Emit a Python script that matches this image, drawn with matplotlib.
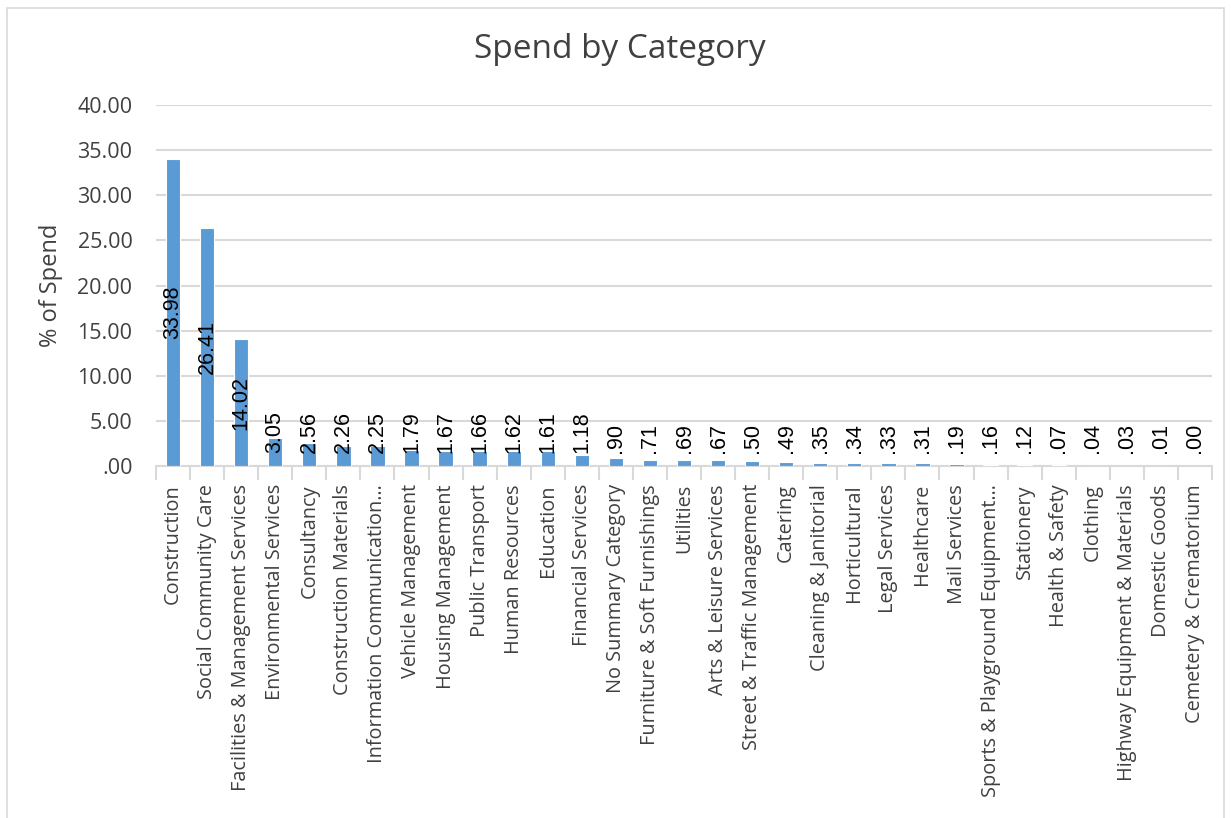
import matplotlib
matplotlib.use("Agg")
import matplotlib.pyplot as plt
from matplotlib.patches import Rectangle
import numpy as np

categories = [
    "Construction", "Social Community Care", "Facilities & Management Services",
    "Environmental Services", "Consultancy", "Construction Materials",
    "Information Communication\u2026", "Vehicle Management", "Housing Management",
    "Public Transport", "Human Resources", "Education", "Financial Services",
    "No Summary Category", "Furniture & Soft Furnishings", "Utilities",
    "Arts & Leisure Services", "Street & Traffic Management", "Catering",
    "Cleaning & Janitorial", "Horticultural", "Legal Services", "Healthcare",
    "Mail Services", "Sports & Playground Equipment\u2026", "Stationery",
    "Health & Safety", "Clothing", "Highway Equipment & Materials",
    "Domestic Goods", "Cemetery & Crematorium",
]
values = [33.98, 26.41, 14.02, 3.05, 2.56, 2.26, 2.25, 1.79, 1.67, 1.66, 1.62,
          1.61, 1.18, 0.90, 0.71, 0.69, 0.67, 0.50, 0.49, 0.35, 0.34, 0.33,
          0.31, 0.19, 0.16, 0.12, 0.07, 0.04, 0.03, 0.01, 0.00]
yticks = [0, 5, 10, 15, 20, 25, 30, 35, 40]

def fmt(v):
    s = f"{v:.2f}"
    return s[1:] if s.startswith("0") else s

W, H = 1231, 818
fig = plt.figure(figsize=(W / 100, H / 100), dpi=100)
fig.patches.append(Rectangle((6.5 / W, -0.01), (1224 - 6.5) / W, 1.01 - 8 / H,
                             transform=fig.transFigure, fill=False,
                             edgecolor="#D9D9D9", linewidth=1.2))

ax = fig.add_axes([156 / W, 1 - 466 / H, (1212 - 156) / W, (466 - 105) / H])
n = len(categories)
x = np.arange(n)
ax.bar(x, values, width=0.42, color="#5B9BD5", edgecolor="white",
       linewidth=0.8, zorder=3)
ax.set_xlim(-0.5, n - 0.5)
ax.set_ylim(0, 40)
ax.set_yticks(yticks)
ax.set_yticklabels([fmt(t) for t in yticks], fontsize=15.5, family="Open Sans",
                   color="#404040")
ax.tick_params(axis="y", length=0, pad=17)
ax.grid(axis="y", color="#D9D9D9", linewidth=1.5, zorder=0)
ax.set_axisbelow(True)
for s in ["top", "right", "left"]:
    ax.spines[s].set_visible(False)
ax.spines["bottom"].set_color("#D9D9D9")
ax.spines["bottom"].set_linewidth(1.5)

ax.set_xticks(x)
ax.set_xticklabels(categories, rotation=90, fontsize=14.3, family="Open Sans",
                   color="#404040", va="top", ha="center")
ax.tick_params(axis="x", which="major", length=0, pad=13)
ax.set_xticks(np.arange(n + 1) - 0.5, minor=True)
ax.tick_params(axis="x", which="minor", length=10, color="#D9D9D9", width=1.5)

ax.set_ylabel("% of Spend", fontsize=17, family="Open Sans", color="#404040",
              labelpad=10)
fig.text(620 / W, 1 - 50 / H, "Spend by Category", fontsize=24,
         family="Open Sans", color="#404040", ha="center", va="center")

for xi, v in zip(x, values):
    half = 2.9
    if v / 2 - half < 1.45:
        ax.text(xi, 1.45, fmt(v), rotation=90, ha="center", va="bottom",
                fontsize=15.5, family="Liberation Sans", color="black", zorder=4)
    else:
        ax.text(xi, v / 2, fmt(v), rotation=90, ha="center", va="center",
                fontsize=15.5, family="Liberation Sans", color="black", zorder=4)

fig.savefig("out.png", dpi=100)
